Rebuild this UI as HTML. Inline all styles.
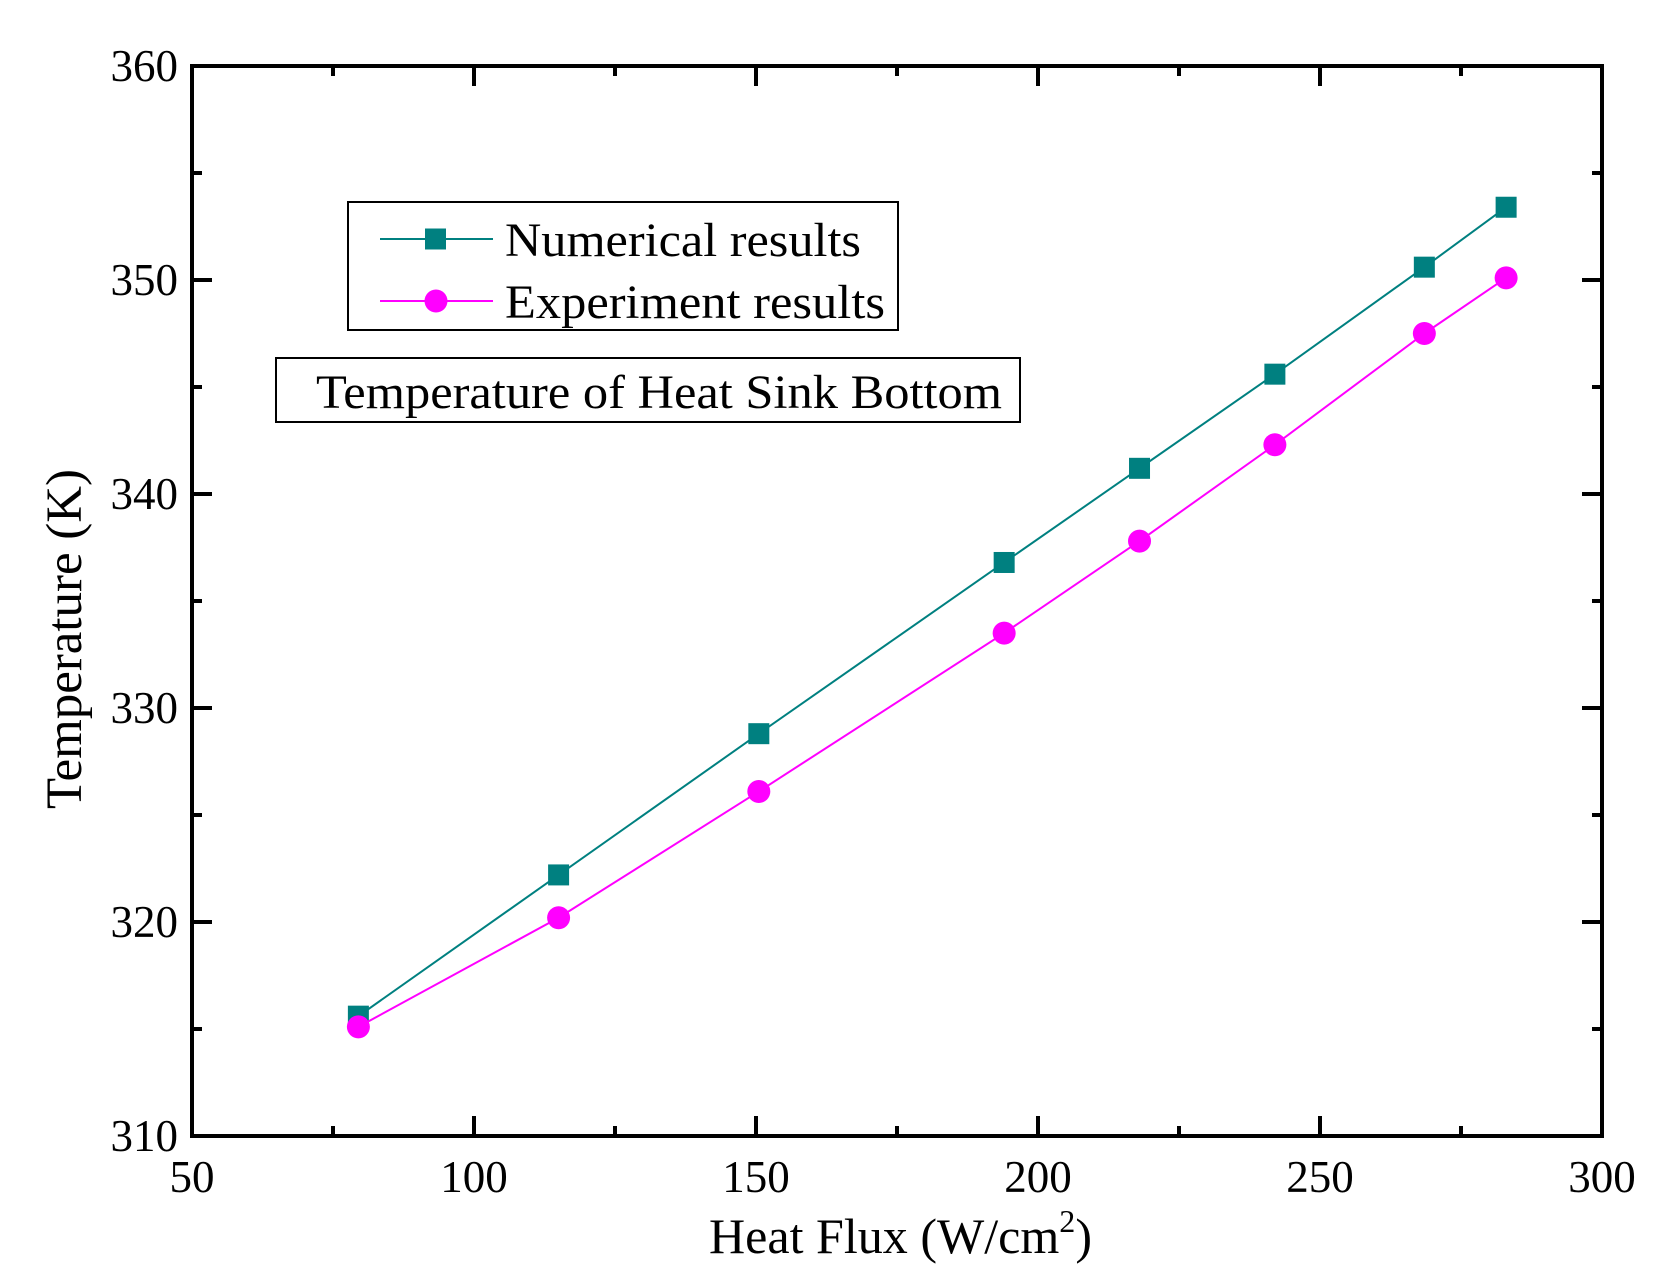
<!DOCTYPE html>
<html><head><meta charset="utf-8"><style>html,body{margin:0;padding:0;background:#fff}svg{display:block}</style></head>
<body>
<svg id="chart" width="1656" height="1281" viewBox="0 0 1656 1281" xmlns="http://www.w3.org/2000/svg" font-family="'Liberation Serif', serif">
<g id="plot"></g>
</svg>
<script>
const heatFlux = [79.5, 115, 150.5, 194, 218, 242, 268.5, 283];
const numerical = [315.6, 322.2, 328.8, 336.8, 341.2, 345.6, 350.6, 353.4];
const experiment = [315.1, 320.2, 326.1, 333.5, 337.8, 342.3, 347.5, 350.1];
const xTicks = [50, 100, 150, 200, 250, 300];
const yTicks = [310, 320, 330, 340, 350, 360];

const L = 192, R = 1602, T = 66, B = 1136;
const x = v => L + (v - 50) / 250 * (R - L);
const y = v => B - (v - 310) / 50 * (B - T);
const NS = 'http://www.w3.org/2000/svg';
const g = document.getElementById('plot');
function mk(tag, attrs, parent) {
  const e = document.createElementNS(NS, tag);
  for (const k in attrs) e.setAttribute(k, attrs[k]);
  (parent || g).appendChild(e);
  return e;
}
for (let v = 50; v <= 300; v += 25) {
  const major = v % 50 === 0, len = major ? 20 : 10, xx = x(v);
  const t1 = mk('line', {x1: xx, y1: B, x2: xx, y2: B - len, stroke: '#000', 'stroke-width': 4});
  
  
  const t2 = mk('line', {x1: xx, y1: T, x2: xx, y2: T + len, stroke: '#000', 'stroke-width': 4});
  
  
}
for (let v = 310; v <= 360; v += 5) {
  const major = v % 10 === 0, len = major ? 20 : 10, yy = y(v);
  const t1 = mk('line', {x1: L, y1: yy, x2: L + len, y2: yy, stroke: '#000', 'stroke-width': 4});
  
  
  const t2 = mk('line', {x1: R, y1: yy, x2: R - len, y2: yy, stroke: '#000', 'stroke-width': 4});
  
  
}
const frame = mk('rect', {x: L, y: T, width: R - L, height: B - T, fill: 'none', stroke: '#000', 'stroke-width': 4});


xTicks.forEach(v => {
  const t = mk('text', {x: x(v), y: B + 56, 'font-size': 45, 'text-anchor': 'middle'});
  t.textContent = v;
  
  
});
yTicks.forEach(v => {
  const t = mk('text', {x: L - 14, y: y(v) + 15, 'font-size': 45, 'text-anchor': 'end'});
  t.textContent = v;
  
  
});
function series(vals, color, name, shape) {
  const pts = heatFlux.map((h, i) => x(h) + ',' + y(vals[i])).join(' ');
  const pl = mk('polyline', {points: pts, fill: 'none', stroke: color, 'stroke-width': 2});
  
  
  heatFlux.forEach((h, i) => {
    let m;
    if (shape === 'sq') m = mk('rect', {x: x(h) - 10.5, y: y(vals[i]) - 10.5, width: 21, height: 21, fill: color});
    else m = mk('circle', {cx: x(h), cy: y(vals[i]), r: 11.5, fill: color});
    
    
  });
}
series(numerical, '#008080', 'numerical', 'sq');
series(experiment, '#ff00ff', 'experiment', 'ci');
</script>
<svg style="position:absolute;left:0;top:0" width="1656" height="1281" font-family="'Liberation Serif', serif">
  <g>
    <rect x="348" y="202" width="550" height="128" fill="#fff" stroke="#000" stroke-width="2"/>
    <line x1="380" y1="239" x2="493" y2="239" stroke="#008080" stroke-width="2"/>
    <rect x="425" y="228.5" width="21" height="21" fill="#008080"/>
    <text x="505" y="256" font-size="48" textLength="356" lengthAdjust="spacingAndGlyphs">Numerical results</text>
    <line x1="380" y1="301" x2="493" y2="301" stroke="#ff00ff" stroke-width="2"/>
    <circle cx="436" cy="301" r="11.5" fill="#ff00ff"/>
    <text x="505" y="318" font-size="48" textLength="380" lengthAdjust="spacingAndGlyphs">Experiment results</text>
  </g>
  <g>
    <rect x="276" y="358" width="744" height="64" fill="#fff" stroke="#000" stroke-width="2"/>
    <text x="316" y="408" font-size="48" textLength="686" lengthAdjust="spacingAndGlyphs">Temperature of Heat Sink Bottom</text>
  </g>
  <text x="709" y="1253" font-size="50" textLength="383" lengthAdjust="spacingAndGlyphs">Heat Flux (W/cm<tspan font-size="32" dy="-21">2</tspan><tspan dy="21">)</tspan></text>
  <text transform="translate(81,639) rotate(-90)" font-size="51" text-anchor="middle" textLength="340" lengthAdjust="spacingAndGlyphs">Temperature (K)</text>
</svg>
</body></html>
